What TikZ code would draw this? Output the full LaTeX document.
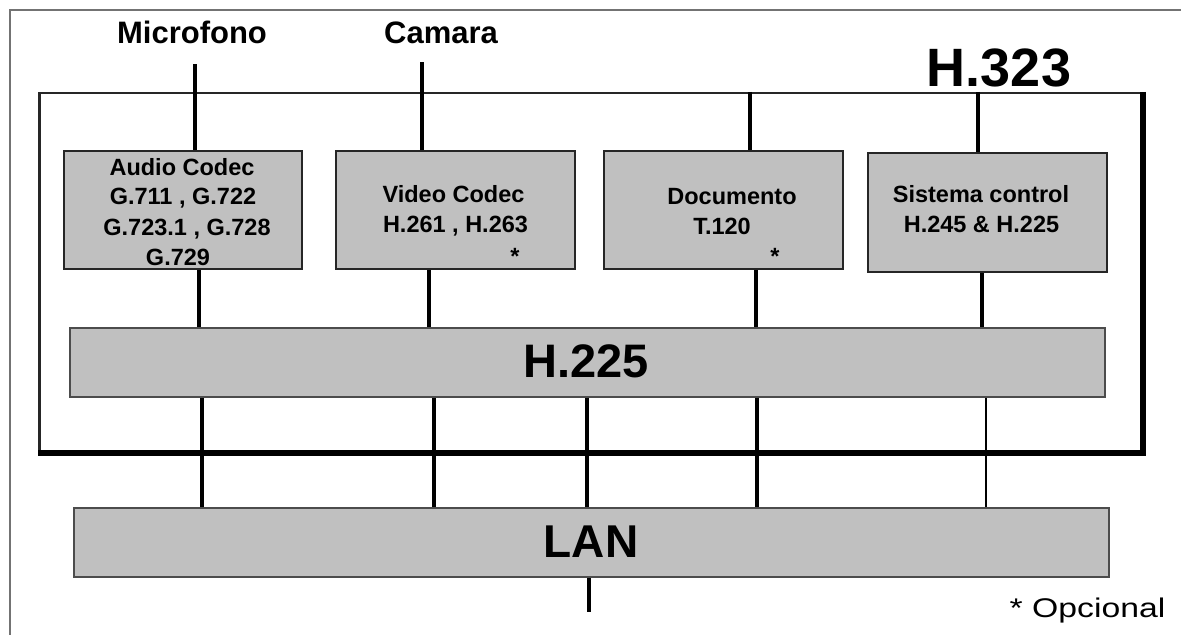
\documentclass[tikz,border=0pt]{standalone}
\usepackage{fontspec}
\setmainfont{Liberation Sans}
\definecolor{boxgray}{RGB}{192,192,192}
\begin{document}
\begin{tikzpicture}[x=1pt,y=-1pt,
  box/.style={draw=black!85, line width=2pt, fill=boxgray, inner sep=0pt, minimum height=118pt, minimum width=239pt},
  bar/.style={draw=black!70, line width=1.5pt, fill=boxgray, inner sep=0pt, minimum height=69pt, minimum width=1035pt},
  wire/.style={line width=3.2pt, black},
  thinwire/.style={line width=1.6pt, black},
  lbl/.style={font=\fontsize{31}{36}\selectfont\bfseries, inner sep=0pt, anchor=base},
  boxtxt/.style={font=\fontsize{23.5}{28}\selectfont\bfseries, inner sep=0pt, anchor=base},
  bigtxt/.style={font=\fontsize{47}{52}\selectfont\bfseries, inner sep=0pt, anchor=base}]
\useasboundingbox (0,0) rectangle (1181,635);
\fill[white] (0,0) rectangle (1181,635);
% outer frame (top and left visible)
\coordinate (oTL) at (10,10);
\coordinate (oTR) at (1181,10);
\coordinate (oBL) at (10,635);
\draw[black!55, line width=1.8pt] (oTR) -- (oTL) -- (oBL);
% H.323 frame
\node[draw=black!85, line width=2.2pt, minimum width=1102pt, minimum height=359pt, inner sep=0pt] (frame) at (590.5,272.5) {};
\draw[line width=6pt, miter limit=10] (frame.north east) -- (frame.south east) -- (frame.south west);
% labels
\node[lbl] (mic) at (192,43) {Microfono};
\node[lbl] (cam) at (441,43) {Camara};
\node[inner sep=0pt, anchor=base, font=\fontsize{54}{60}\selectfont\bfseries] (h323) at (999,86) {H.323};
% top connectors
\coordinate (micT) at (195,64);
\coordinate (camT) at (422,62);
\coordinate (docX) at (750,0);
\coordinate (sisX) at (978,0);
% boxes
\node[box, minimum width=238pt] (audio) at (183,210) {};
\node[box] (video) at (455.5,210) {};
\node[box] (doc) at (723.5,210) {};
\node[box, minimum height=119pt] (sis) at (987.5,212.5) {};
\node[bar] (h225) at (587.5,362.5) {};
\node[bar] (lan) at (591.5,542.5) {};
\draw[wire] (micT) -- (micT |- audio.north);
\draw[wire] (camT) -- (camT |- video.north);
\draw[wire] (docX |- frame.north) -- (docX |- doc.north);
\draw[wire] (sisX |- frame.north) -- (sisX |- sis.north);
% boxes to H.225
\coordinate (a1) at (199,0);
\coordinate (a2) at (429,0);
\coordinate (a3) at (756,0);
\coordinate (a4) at (982,0);
\draw[wire] (a1 |- audio.south) -- (a1 |- h225.north);
\draw[wire] (a2 |- video.south) -- (a2 |- h225.north);
\draw[wire] (a3 |- doc.south) -- (a3 |- h225.north);
\draw[wire] (a4 |- sis.south) -- (a4 |- h225.north);
% H.225 to LAN
\coordinate (b1) at (202,0);
\coordinate (b2) at (434,0);
\coordinate (b3) at (587,0);
\coordinate (b4) at (757,0);
\coordinate (b5) at (986,0);
\draw[wire] (b1 |- h225.south) -- (b1 |- lan.north);
\draw[wire] (b2 |- h225.south) -- (b2 |- lan.north);
\draw[wire] (b3 |- h225.south) -- (b3 |- lan.north);
\draw[wire] (b4 |- h225.south) -- (b4 |- lan.north);
\draw[thinwire] (b5 |- h225.south) -- (b5 |- lan.north);
% LAN downward
\coordinate (lanB) at (589,612);
\draw[wire] (lanB |- lan.south) -- (lanB);
% box texts
\node[boxtxt] (t1) at (182,175) {Audio Codec};
\node[boxtxt] (t2) at (183,204) {G.711 , G.722};
\node[boxtxt] (t3) at (187,235) {G.723.1 , G.728};
\node[boxtxt] (t4) at (178,265) {G.729};
\node[boxtxt] (t5) at (453.5,202) {Video Codec};
\node[boxtxt] (t6) at (455.5,232) {H.261 , H.263};
\node[boxtxt] (t7) at (515,264) {*};
\node[boxtxt] (t8) at (732,204) {Documento};
\node[boxtxt] (t9) at (722,234) {T.120};
\node[boxtxt] (t10) at (775,264) {*};
\node[boxtxt] (t11) at (981,202) {Sistema control};
\node[boxtxt] (t12) at (981.5,232) {H.245 \& H.225};
\node[bigtxt] (t13) at (586,377) {H.225};
\node[bigtxt, font=\fontsize{46}{52}\selectfont\bfseries] (t14) at (591,557) {LAN};
\node[inner sep=0pt, anchor=base, font=\fontsize{27}{32}\selectfont] (opc) at (1087.5,617) {\scalebox{1.25}[1]{* Opcional}};
\end{tikzpicture}
\end{document}
